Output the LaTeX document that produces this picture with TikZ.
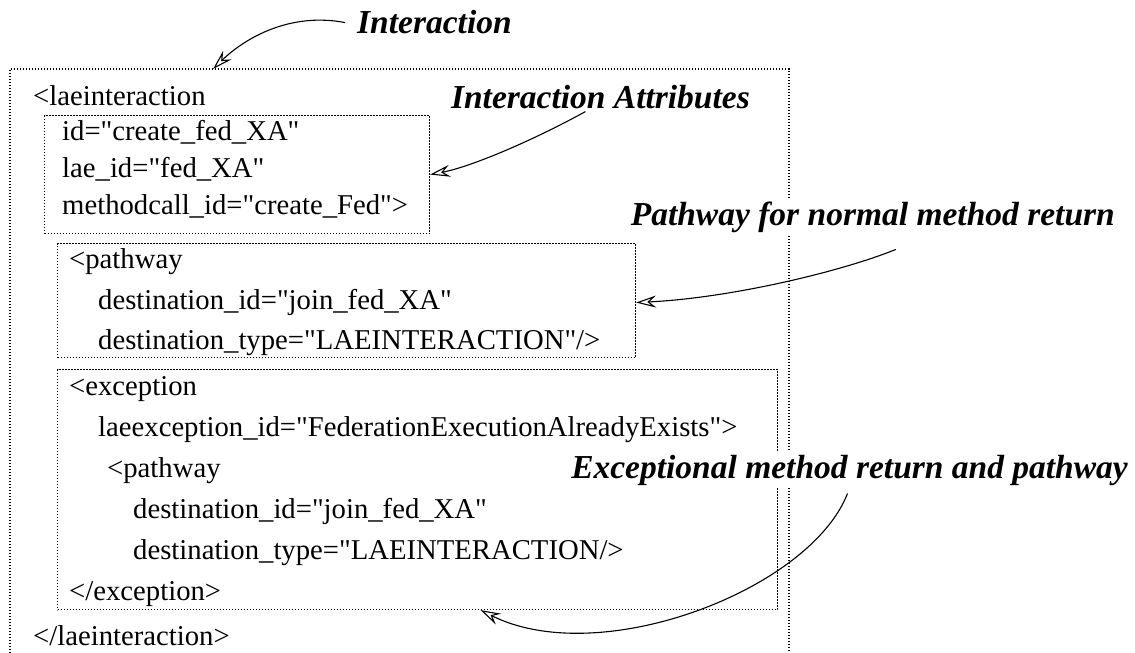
\documentclass[tikz,border=0pt]{standalone}
\usepackage{fontspec}
\setmainfont{Liberation Serif}[Ligatures=TeXOff]
\usetikzlibrary{arrows.meta}

\begin{document}
\begin{tikzpicture}[x=1pt,y=-1pt,
  code/.style={anchor=base west, inner sep=0pt, font=\fontsize{28.7}{34}\selectfont},
  tag/.style={font=\fontsize{33.5}{40}\selectfont\bfseries\itshape, fill=white, inner sep=3pt},
  frame/.style={draw, line width=1.1pt, dash pattern=on 1.3pt off 1.7pt},
  boxframe/.style={frame, inner sep=0pt, anchor=north west},
  pointer/.style={line width=1.1pt, -{Stealth[open, length=20pt, width=12pt, inset=7pt, line width=1.1pt]}}
]
\useasboundingbox (0,0) rectangle (1135,653);

% outer element, open at the bottom
\draw[frame] (10,653) |- (789,69) -- (789,653);
\coordinate (outertop) at (213,69);

% nested frames
\node[boxframe, minimum width=385, minimum height=118] (attr) at (44,115) {};
\node[boxframe, minimum width=578, minimum height=114] (path) at (57,243) {};
\node[boxframe, minimum width=720, minimum height=240] (exc) at (57,369) {};

% XML text
\node[code] (l1) at (33,105) {<laeinteraction};
\node[code] (l2) at (62,140) {id="create\_fed\_XA"};
\node[code] (l3) at (62,177) {lae\_id="fed\_XA"};
\node[code] (l4) at (62,214) {methodcall\_id="create\_Fed">};
\node[code] (l5) at (69,268) {<pathway};
\node[code] (l6) at (98,309) {destination\_id="join\_fed\_XA"};
\node[code] (l7) at (98,349) {destination\_type="LAEINTERACTION"/>};
\node[code] (l8) at (69,395) {<exception};
\node[code] (l9) at (98,436) {laeexception\_id="FederationExecutionAlreadyExists">};
\node[code] (l10) at (107,477) {<pathway};
\node[code] (l11) at (133,518) {destination\_id="join\_fed\_XA"};
\node[code] (l12) at (133,559) {destination\_type="LAEINTERACTION/>};
\node[code] (l13) at (69,600) {</exception>};
\node[code] (l14) at (33,645) {</laeinteraction>};

% callout labels
\node[tag, anchor=base west] (tint) at (354,33) {Interaction};
\node[tag, anchor=base east] (tattr) at (753,108) {Interaction Attributes};
\node[tag, anchor=base east] (tpath) at (1118,225) {Pathway for normal method return};
\node[tag, anchor=base east] (texc) at (1131,478) {Exceptional method return and pathway};

% callout arrows
\draw[pointer] ([xshift=-9pt,yshift=-1pt]tint.west) .. controls (290,12) and (245,38) .. (outertop);
\draw[pointer] ([xshift=-15pt]tattr.south) .. controls (530,142) and (470,167) .. (attr.east);
\draw[pointer] ([xshift=23pt,yshift=-14pt]tpath.south) .. controls (840,272) and (730,298) .. ([yshift=-2pt]path.east);
\draw[pointer] ([xshift=-2pt,yshift=-5pt]texc.south) .. controls (810,590) and (600,670) .. ([xshift=63pt]exc.south);
\end{tikzpicture}
\end{document}
